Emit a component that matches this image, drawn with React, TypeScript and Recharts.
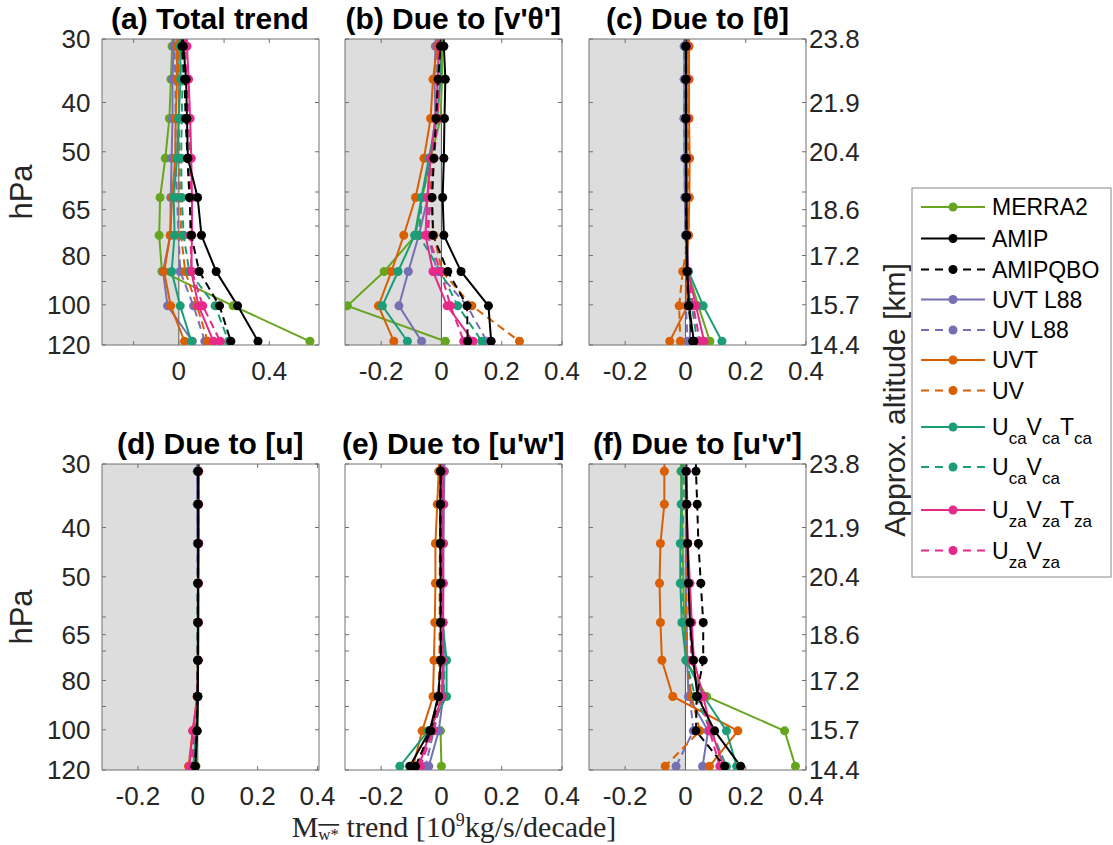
import React from 'react';
import { LineChart, Line, XAxis, YAxis, ReferenceArea, ReferenceLine } from 'recharts';

// pressure levels (hPa) of the plotted points (the first one lies just above the 30 hPa top and is clipped)
const levels = [26.6, 31, 36, 43, 51.5, 61.5, 73, 86, 100.5, 118];
const pTicks = [30, 40, 50, 60, 65, 70, 80, 90, 100, 120];
const pLabelTicks = [30, 40, 50, 65, 80, 100, 120];
const altLabels: Record<number, string> = { 30: '23.8', 40: '21.9', 50: '20.4', 65: '18.6', 80: '17.2', 100: '15.7', 120: '14.4' };

const seriesNames = ['MERRA2', 'AMIP', 'AMIPQBO', 'UVT L88', 'UV L88', 'UVT', 'UV', 'UcaVcaTca', 'UcaVca', 'UzaVzaTza', 'UzaVza'];
const seriesKeys = ['merra2', 'amip', 'amipqbo', 'uvtL88', 'uvL88', 'uvt', 'uv', 'ucaT', 'uca', 'uzaT', 'uza'];
const seriesColors = ['#66a61e', '#000000', '#000000', '#7570b3', '#7570b3', '#d95f02', '#d95f02', '#1b9e77', '#1b9e77', '#e7298a', '#e7298a'];
const seriesDashed = [false, false, true, false, true, false, true, false, true, false, true];
const drawOrder = [0, 3, 4, 5, 6, 7, 8, 9, 10, 2, 1];

type P = Record<string, (number | null)[]>;

const panelA: P = {
  merra2: [-0.027, -0.03, -0.035, -0.042, -0.06, -0.083, -0.087, -0.075, 0.24, 0.58],
  amip: [0.016, 0.02, 0.032, 0.036, 0.04, 0.083, 0.1, 0.165, 0.26, 0.35],
  amipqbo: [0.01, 0.014, 0.025, 0.03, 0.038, 0.047, 0.055, 0.09, 0.18, 0.23],
  uvtL88: [-0.02, -0.023, -0.028, -0.028, -0.032, -0.036, -0.038, -0.07, -0.05, 0.06],
  uvL88: [-0.019, -0.019, -0.016, -0.014, -0.014, -0.008, -0.001, 0.006, 0.065, 0.115],
  uvt: [-0.006, -0.008, -0.008, -0.014, -0.016, -0.03, -0.038, -0.065, -0.036, 0.025],
  uv: [-0.006, -0.004, 0.001, 0.001, 0.001, 0.006, 0.01, 0.028, 0.08, 0.128],
  ucaT: [0.005, 0.006, 0.008, -0.001, -0.008, -0.023, -0.019, -0.032, 0.006, 0.055],
  uca: [0.012, 0.013, 0.016, 0.013, 0.01, 0.013, 0.021, 0.046, 0.16, 0.22],
  uzaT: [0.033, 0.036, 0.043, 0.05, 0.055, 0.058, 0.058, 0.055, 0.087, 0.153],
  uza: [0.025, 0.028, 0.034, 0.044, 0.05, 0.05, 0.05, 0.057, 0.106, 0.183],
};

const panelB: P = {
  merra2: [0.003, 0.002, 0.002, -0.003, -0.036, -0.064, -0.086, -0.19, -0.312, 0.013],
  amip: [0.007, 0.008, 0.013, 0.01, 0.008, 0.004, 0.008, 0.065, 0.156, 0.165],
  amipqbo: [0.002, -0.003, -0.011, -0.018, -0.025, -0.031, -0.028, 0.021, 0.085, 0.087],
  uvtL88: [-0.018, -0.02, -0.023, -0.02, -0.039, -0.045, -0.075, -0.11, -0.141, -0.066],
  uvL88: [-0.012, -0.014, -0.016, -0.014, -0.031, -0.045, -0.045, -0.014, 0.085, 0.151],
  uvt: [-0.008, -0.014, -0.028, -0.036, -0.058, -0.086, -0.125, -0.166, -0.209, -0.158],
  uv: [-0.006, -0.009, -0.014, -0.02, -0.031, -0.036, -0.025, 0.002, 0.101, 0.259],
  ucaT: [-0.002, -0.003, -0.003, -0.014, -0.042, -0.066, -0.089, -0.144, -0.196, -0.113],
  uca: [-0.002, -0.003, -0.007, -0.014, -0.036, -0.064, -0.075, -0.003, 0.054, 0.134],
  uzaT: [-0.006, -0.009, -0.012, -0.02, -0.036, -0.047, -0.053, -0.028, 0.019, 0.105],
  uza: [-0.004, -0.006, -0.009, -0.012, -0.025, -0.036, -0.045, -0.003, 0.03, 0.074],
};

const panelC: P = {
  merra2: [0.003, 0.003, 0.003, 0.003, 0.003, 0.003, 0.004, 0.008, 0.043, 0.081],
  amip: [0.002, 0.002, 0.002, 0.002, 0.002, 0.003, 0.004, 0.006, 0.012, 0.028],
  amipqbo: [0.001, 0.001, 0.001, 0.001, 0.002, 0.002, 0.003, 0.005, 0.01, 0.024],
  uvtL88: [-0.004, -0.004, -0.004, -0.004, -0.003, -0.002, 0, 0.008, 0.015, 0.015],
  uvL88: [-0.004, -0.004, -0.004, -0.005, -0.003, -0.002, 0, 0.004, 0.002, 0.007],
  uvt: [0.012, 0.012, 0.012, 0.012, 0.014, 0.013, 0.01, 0.003, 0.007, -0.052],
  uv: [0.01, 0.01, 0.01, 0.01, 0.01, 0.01, 0.01, -0.009, -0.021, -0.017],
  ucaT: [0.002, 0.002, 0.002, 0.002, 0.002, 0.003, 0.004, 0.01, 0.059, 0.121],
  uca: [0.001, 0.001, 0.001, 0.001, 0.001, 0.002, 0.003, 0.006, 0.021, 0.039],
  uzaT: [0.004, 0.004, 0.004, 0.004, 0.004, 0.004, 0.005, 0.008, 0.035, 0.062],
  uza: [0.003, 0.003, 0.003, 0.003, 0.003, 0.003, 0.004, 0.006, 0.026, 0.048],
};

const panelD: P = {
  merra2: [0.003, 0.003, 0.002, 0.002, 0.001, 0.001, 0.001, 0.001, -0.002, -0.006],
  amip: [0.001, 0.001, 0.001, 0.001, 0.001, 0.001, 0.001, 0, -0.002, -0.008],
  amipqbo: [0.001, 0.001, 0.001, 0.001, 0, 0, 0, -0.001, -0.003, -0.01],
  uvtL88: [-0.002, -0.002, -0.002, -0.001, 0, 0, 0, 0, -0.004, -0.012],
  uvL88: [-0.001, -0.001, -0.001, -0.001, 0, 0, 0, 0, -0.005, -0.013],
  uvt: [0.002, 0.002, 0.002, 0.002, 0.001, 0.001, 0, -0.002, -0.017, -0.031],
  uv: [0.001, 0.001, 0.001, 0.001, 0.001, 0, 0, -0.002, -0.01, -0.02],
  ucaT: [0.001, 0.001, 0.001, 0.001, 0.001, 0, 0, -0.001, -0.006, -0.015],
  uca: [0.001, 0.001, 0.001, 0.001, 0, 0, 0, -0.001, -0.005, -0.013],
  uzaT: [0.003, 0.003, 0.003, 0.003, 0.002, 0.002, 0.001, -0.001, -0.017, -0.028],
  uza: [0.002, 0.002, 0.002, 0.002, 0.002, 0.001, 0.001, -0.001, -0.012, -0.022],
};

const panelE: P = {
  merra2: [null, null, null, null, null, null, null, null, -0.003, 0],
  amip: [-0.003, -0.003, -0.004, -0.004, -0.003, -0.003, -0.002, -0.011, -0.039, -0.105],
  amipqbo: [-0.002, -0.002, -0.003, -0.003, -0.002, -0.002, -0.002, -0.009, -0.035, -0.086],
  uvtL88: [0.01, 0.01, 0.008, 0.007, 0.006, 0.006, 0.008, 0.006, -0.009, -0.042],
  uvL88: [0.006, 0.006, 0.005, 0.005, 0.004, 0.004, 0.005, 0.002, -0.025, -0.053],
  uvt: [-0.007, -0.009, -0.014, -0.02, -0.02, -0.022, -0.025, -0.028, -0.064, -0.094],
  uv: [-0.003, -0.003, -0.004, -0.005, -0.006, -0.006, -0.007, -0.01, -0.034, -0.086],
  ucaT: [0.002, 0.002, 0.002, 0.002, 0.003, 0.004, 0.017, 0.017, -0.044, -0.138],
  uca: [0.001, 0.001, 0.001, 0.001, 0.002, 0.002, 0.01, 0.008, -0.031, -0.083],
  uzaT: [0.005, 0.005, 0.006, 0.005, 0.006, 0.005, 0.004, 0.002, -0.036, -0.075],
  uza: [0.004, 0.004, 0.004, 0.004, 0.004, 0.003, 0.003, 0, -0.028, -0.07],
};

const panelF: P = {
  merra2: [-0.016, -0.015, -0.012, -0.009, -0.007, -0.004, 0.002, 0.07, 0.329, 0.365],
  amip: [0.001, 0.002, 0.004, 0.007, 0.01, 0.015, 0.026, 0.04, 0.097, 0.183],
  amipqbo: [0.034, 0.035, 0.039, 0.043, 0.051, 0.059, 0.059, 0.037, 0.035, 0.13],
  uvtL88: [0.004, 0.004, 0.006, 0.002, 0.002, 0.004, 0.006, 0.01, 0.075, 0.057],
  uvL88: [0.002, 0.002, 0.002, 0.001, 0.001, 0.002, 0.005, 0.015, 0.026, -0.031],
  uvt: [-0.069, -0.07, -0.07, -0.083, -0.086, -0.083, -0.078, -0.042, 0.174, 0.08],
  uv: [0, 0, 0.001, 0.002, 0.003, 0.004, 0.006, 0.02, 0.048, -0.067],
  ucaT: [-0.011, -0.012, -0.014, -0.017, -0.017, -0.012, 0.002, 0.061, 0.136, 0.17],
  uca: [-0.006, -0.006, -0.006, -0.012, -0.012, -0.006, 0.002, 0.032, 0.086, 0.136],
  uzaT: [0.001, 0.002, 0.004, 0.008, 0.015, 0.021, 0.028, 0.059, 0.086, 0.127],
  uza: [0.001, 0.002, 0.003, 0.006, 0.01, 0.015, 0.02, 0.048, 0.08, 0.114],
};

const titles = ['(a) Total trend', "(b) Due to [v'\u03B8']", '(c) Due to [\u03B8]', '(d) Due to [u]', "(e) Due to [u'w']", "(f) Due to [u'v']"];

const FONT = '"Liberation Sans", Arial, Helvetica, sans-serif';
const SERIF = '"Liberation Serif", "Times New Roman", serif';
const AXIS_COLOR = '#707070';
const TEXT_COLOR = '#262626';
const PW = 217;
const PH = 306;
const ML = 90;
const MR = 80;
const MT = 50;
const MB = 60;

interface PanelProps {
  data: P;
  left: number;
  top: number;
  domain: [number, number];
  xTicks: number[];
  xLabels: number[];
  showLeft: boolean;
  showAlt: boolean;
  shade: boolean;
}

function Panel({ data, left, top, domain, xTicks, xLabels, showLeft, showAlt, shade }: PanelProps) {
  const rows = levels.map((p, i) => {
    const r: Record<string, number | null> = { p };
    seriesKeys.forEach((k) => { r[k] = data[k][i]; });
    return r;
  });
  const tickStyle = { fontSize: 26, fill: TEXT_COLOR, fontFamily: FONT };
  return (
    <div style={{ position: 'absolute', left: left - ML, top: top - MT }}>
      <LineChart
        width={ML + PW + MR}
        height={MT + PH + MB}
        data={rows}
        layout="vertical"
        margin={{ top: MT - 1, left: 0, right: 0, bottom: 0 }}
      >
        <XAxis
          type="number"
          domain={domain}
          allowDataOverflow
          ticks={xTicks}
          interval={0}
          height={MB}
          tickSize={-4}
          tickMargin={21}
          stroke={AXIS_COLOR}
          tick={tickStyle}
          tickFormatter={(v: number) => (xLabels.includes(v) ? String(v) : '')}
        />
        <XAxis
          xAxisId="top"
          orientation="top"
          type="number"
          domain={domain}
          allowDataOverflow
          ticks={xTicks}
          interval={0}
          height={1}
          tickSize={-4}
          stroke={AXIS_COLOR}
          tickFormatter={() => ''}
        />
        <YAxis
          dataKey="p"
          type="number"
          scale="log"
          domain={[30, 120]}
          allowDataOverflow
          ticks={pTicks}
          interval={0}
          width={ML}
          tickSize={-4}
          tickMargin={15.5}
          stroke={AXIS_COLOR}
          tick={tickStyle}
          tickFormatter={(v: number) => (showLeft && pLabelTicks.includes(v) ? String(v) : '')}
        />
        <YAxis
          yAxisId="r"
          orientation="right"
          dataKey="p"
          type="number"
          scale="log"
          domain={[30, 120]}
          allowDataOverflow
          ticks={pTicks}
          interval={0}
          width={MR}
          tickSize={-4}
          tickMargin={7}
          stroke={AXIS_COLOR}
          tick={tickStyle}
          tickFormatter={(v: number) => (showAlt && altLabels[v] ? altLabels[v] : '')}
        />
        {shade && (
          <ReferenceArea x1={domain[0]} x2={0} y1={30} y2={120} fill="#dddddd" fillOpacity={1} stroke="none" />
        )}
        {shade && <ReferenceLine x={0} stroke="#555555" strokeWidth={1} />}
        {drawOrder.map((i) => {
          const color = seriesColors[i];
          return (
            <Line
              key={seriesKeys[i]}
              dataKey={seriesKeys[i]}
              stroke={color}
              strokeWidth={2}
              strokeDasharray={seriesDashed[i] ? '8 5' : undefined}
              dot={{ r: 4.5, fill: color, stroke: color, strokeWidth: 0, strokeDasharray: '' }}
              activeDot={false}
              isAnimationActive={false}
              connectNulls={false}
            />
          );
        })}
      </LineChart>
    </div>
  );
}

function LegendLabel({ name, x, y }: { name: string; x: number; y: number }) {
  if (name === 'UcaVcaTca' || name === 'UzaVzaTza' || name === 'UcaVca' || name === 'UzaVza') {
    const s = name.includes('ca') ? 'ca' : 'za';
    const hasT = name.endsWith('T' + s);
    return (
      <text x={x} y={y} fontSize={23} fontFamily={FONT} fill="#000">
        U<tspan dy={9} fontSize={17}>{s}</tspan>
        <tspan dy={-9}>V</tspan>
        <tspan dy={9} fontSize={17}>{s}</tspan>
        {hasT ? (
          <>
            <tspan dy={-9}>T</tspan>
            <tspan dy={9} fontSize={17}>{s}</tspan>
          </>
        ) : null}
      </text>
    );
  }
  return (
    <text x={x} y={y} fontSize={23} fontFamily={FONT} fill="#000">
      {name}
    </text>
  );
}

const legendY = [207, 238.5, 269.5, 299.5, 330, 360, 390.5, 427, 467, 510, 550.5];

export default function App() {
  const panels: PanelProps[] = [
    { data: panelA, left: 101.5, top: 39.3, domain: [-0.34, 0.62], xTicks: [-0.2, 0, 0.2, 0.4], xLabels: [0, 0.4], showLeft: true, showAlt: false, shade: true },
    { data: panelB, left: 344.7, top: 39.3, domain: [-0.32, 0.4], xTicks: [-0.2, 0, 0.2, 0.4], xLabels: [-0.2, 0, 0.2, 0.4], showLeft: false, showAlt: false, shade: true },
    { data: panelC, left: 589, top: 39.3, domain: [-0.32, 0.4], xTicks: [-0.2, 0, 0.2, 0.4], xLabels: [-0.2, 0, 0.2, 0.4], showLeft: false, showAlt: true, shade: true },
    { data: panelD, left: 101.7, top: 463.5, domain: [-0.32, 0.405], xTicks: [-0.2, 0, 0.2, 0.4], xLabels: [-0.2, 0, 0.2, 0.4], showLeft: true, showAlt: false, shade: true },
    { data: panelE, left: 344.7, top: 463.5, domain: [-0.32, 0.4], xTicks: [-0.2, 0, 0.2, 0.4], xLabels: [-0.2, 0, 0.2, 0.4], showLeft: false, showAlt: false, shade: false },
    { data: panelF, left: 589, top: 463.5, domain: [-0.32, 0.4], xTicks: [-0.2, 0, 0.2, 0.4], xLabels: [-0.2, 0, 0.2, 0.4], showLeft: false, showAlt: true, shade: true },
  ];
  return (
    <div style={{ position: 'absolute', left: 0, top: 0, width: 1113, height: 845, background: '#ffffff', overflow: 'hidden' }}>
      {panels.map((p, i) => (
        <Panel key={i} {...p} />
      ))}
      <svg width={1113} height={845} style={{ position: 'absolute', left: 0, top: 0, pointerEvents: 'none' }}>
        {panels.map((p, i) => (
          <text
            key={'t' + i}
            x={p.left + PW / 2}
            y={p.top - 10}
            textAnchor="middle"
            fontSize={30}
            fontWeight="bold"
            fontFamily={FONT}
            fill="#000"
          >
            {titles[i]}
          </text>
        ))}
        <text transform="translate(21,192) rotate(-90)" textAnchor="middle" dominantBaseline="central" fontSize={31} fontFamily={FONT} fill={TEXT_COLOR}>
          hPa
        </text>
        <text transform="translate(21,617) rotate(-90)" textAnchor="middle" dominantBaseline="central" fontSize={31} fontFamily={FONT} fill={TEXT_COLOR}>
          hPa
        </text>
        <text transform="translate(894,400) rotate(-90)" textAnchor="middle" dominantBaseline="central" fontSize={30} fontFamily={FONT} fill={TEXT_COLOR}>
          Approx. altitude [km]
        </text>
        <text x={454} y={837} textAnchor="middle" fontSize={30} fontFamily={SERIF} fill={TEXT_COLOR}>
          M
          <tspan dy={3} fontSize={17} textDecoration="overline">w*</tspan>
          <tspan dy={-3}> trend [10</tspan>
          <tspan dy={-11} fontSize={18}>9</tspan>
          <tspan dy={11}>kg/s/decade]</tspan>
        </text>
        <rect x={912} y={188} width={199} height={389} fill="#ffffff" stroke="#888888" strokeWidth={1} />
        {seriesNames.map((n, i) => (
          <g key={'l' + i}>
            <line
              x1={921}
              x2={985}
              y1={legendY[i]}
              y2={legendY[i]}
              stroke={seriesColors[i]}
              strokeWidth={2}
              strokeDasharray={seriesDashed[i] ? '8 6' : undefined}
            />
            <circle cx={953} cy={legendY[i]} r={4.5} fill={seriesColors[i]} />
            <LegendLabel name={n} x={992} y={legendY[i] + 8} />
          </g>
        ))}
      </svg>
    </div>
  );
}
